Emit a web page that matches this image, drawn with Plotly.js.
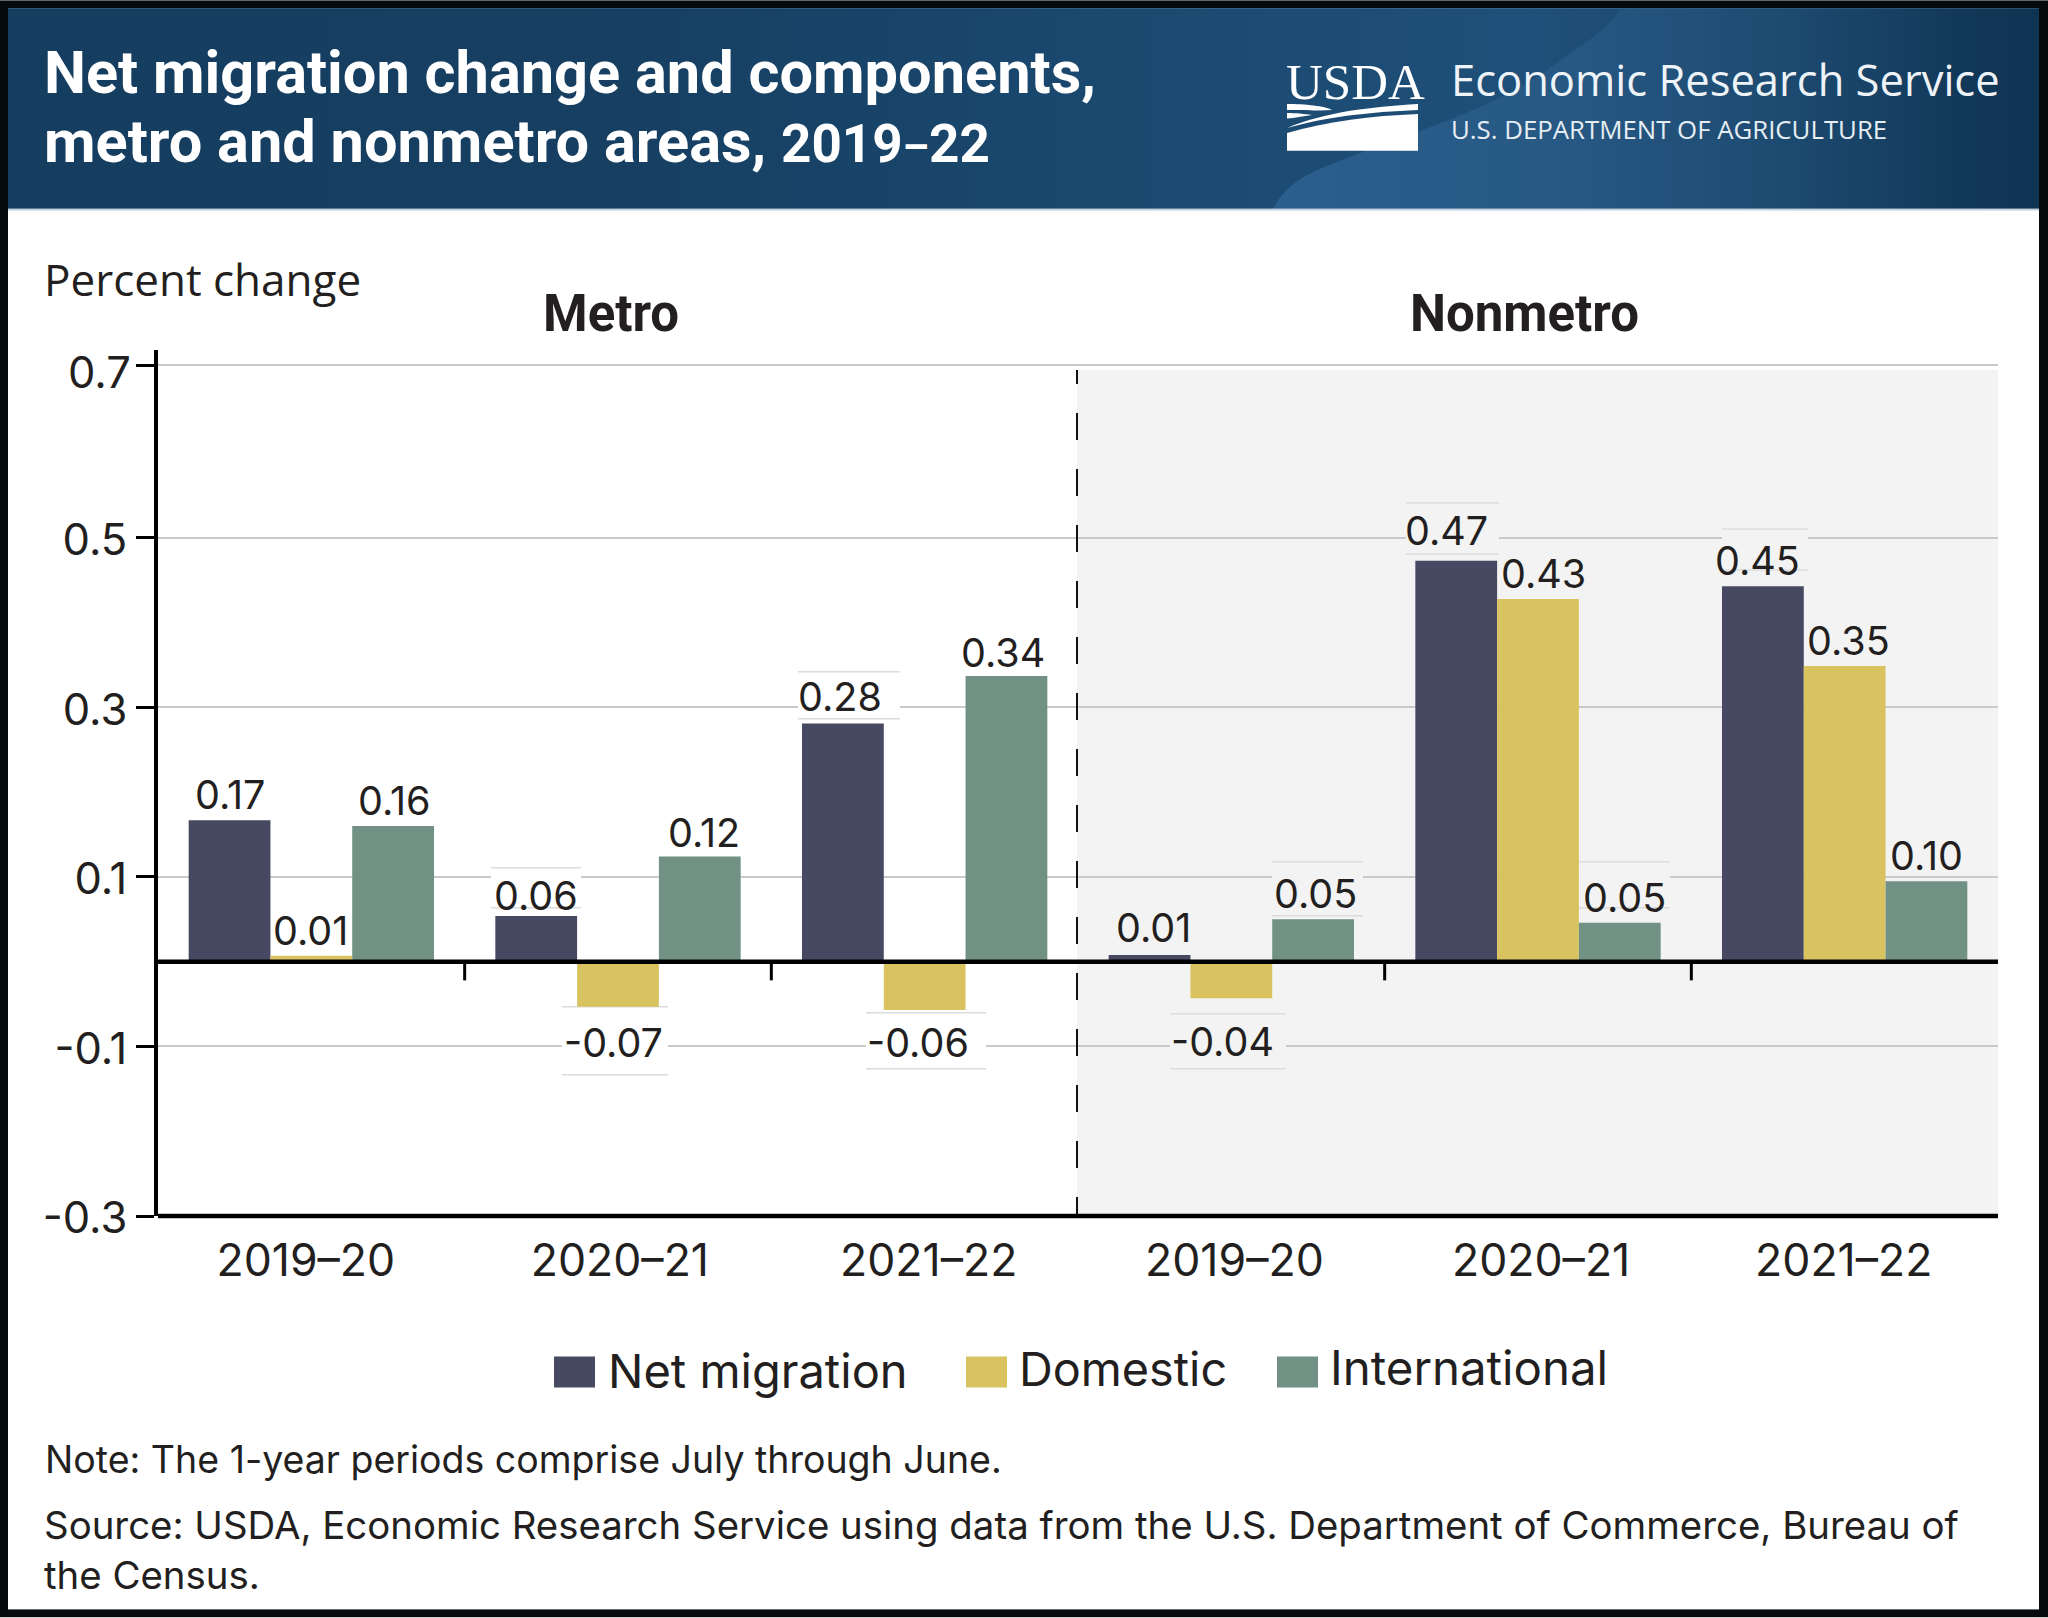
<!DOCTYPE html>
<html>
<head>
<meta charset="utf-8">
<script src="https://cdn.plot.ly/plotly-3.0.1.min.js"></script>
<style>html,body{margin:0;padding:0;background:#fff;overflow:hidden}#chart{width:2048px;height:1618px}</style>
</head>
<body>
<div id="chart"></div>
<script>
// ---- data ----
const periods = ["2019–20","2020–21","2021–22","2019–20","2020–21","2021–22"];
const seriesNames = ["Net migration","Domestic","International"];
const netMigration  = [0.167,0.054,0.281,0.008,0.473,0.443];
const domestic      = [0.007,-0.053,-0.057,-0.043,0.428,0.349];
const international = [0.160,0.124,0.337,0.050,0.046,0.095];
const netLabels  = ["0.17","0.06","0.28","0.01","0.47","0.45"];
const domLabels  = ["0.01","-0.07","-0.06","-0.04","0.43","0.35"];
const intLabels  = ["0.16","0.12","0.34","0.05","0.05","0.10"];
const yTickVals  = [-0.3,-0.1,0.1,0.3,0.5,0.704];
const yTickText  = ["-0.3","-0.1","0.1","0.3","0.5",""];
const topTickText= "0.7";
const panelNames = ["Metro","Nonmetro"];
const noteText   = "Note: The 1-year periods comprise July through June.";
const sourceLine1= "Source: USDA, Economic Research Service using data from the U.S. Department of Commerce, Bureau of";
const sourceLine2= "the Census.";

// ---- label nudges in pixels, per series ----
const netDx=[0,0,-3,4,-10,-5], domDx=[-1,-5,-7,-9,5,4], intDx=[1,4,-3,2,5,0];
const netDy=[25,20,27,27,30,25], domDy=[25,-36,-33,-44,25,25], intDy=[25,24,23,25,25,25];

// ---- styles / frame ----
const navy="#474861", gold="#d9c260", teal="#719184", ink="#231f20";
const L=158, R=1998, T=350, B=1216.4, Y0=962, PX=848;
const W=R-L, H=B-T;
const yTop=(Y0-T)/PX, yBot=(Y0-B)/PX;
const dx=p=>(p-L)/W*6-0.5, dy=p=>(Y0-p)/PX;
const px=x=>(x-L)/W, py=y=>1-(y-T)/H;

const banner=`<svg xmlns="http://www.w3.org/2000/svg" width="2048" height="1618" viewBox="0 0 2048 1618">
<defs><linearGradient id="g" x1="0" x2="1" y1="0" y2="0">
<stop offset="0" stop-color="#153d5f"/><stop offset="0.3" stop-color="#163f62"/><stop offset="0.62" stop-color="#1c4b73"/><stop offset="0.75" stop-color="#1f5079"/><stop offset="0.88" stop-color="#194468"/><stop offset="1" stop-color="#0f3352"/></linearGradient>
<linearGradient id="s" gradientUnits="userSpaceOnUse" x1="1273" x2="1950" y1="0" y2="0">
<stop offset="0" stop-color="#2b5f8e" stop-opacity="1"/><stop offset="0.45" stop-color="#2a5c88" stop-opacity="0.7"/><stop offset="1" stop-color="#1f5079" stop-opacity="0"/></linearGradient></defs>
<rect x="0" y="0" width="2048" height="1618" fill="#050a0c"/>
<rect x="8" y="8" width="2031" height="1602" fill="#ffffff"/>
<rect x="8" y="8" width="2031" height="201" fill="url(#g)"/>
<path d="M1273 209C1282 190 1300 178 1317 170C1400 135 1500 110 1560 60C1590 40 1612 25 1620 8L2039 8L2039 209Z" fill="url(#s)"/>
<rect x="8" y="208.500" width="2031" height="2" fill="#c3d2df"/>
<path d="M1287 150.700L1287 133C1330 121 1370 116 1418 114L1418 150.700Z" fill="#fff"/>
<path d="M1287 128C1325 112 1370 107 1418 104L1418 110C1370 112 1325 117 1287 128Z" fill="#fff"/>
<path d="M1287 104L1287 110C1310 110 1320 111 1332 110C1325 106 1305 104 1287 104Z" fill="#fff"/>
<path d="M1287 113L1287 118.500C1295 118 1303 116 1312 115C1305 114 1295 113 1287 113Z" fill="#fff"/>
</svg>`;

const font=(family,size,weight,color)=>({family,size,color:color||ink,weight:weight||400});
const ROBOTO="Roboto", OPEN="Open Sans", SERIF="Liberation Serif", INTER="Inter";
const baseK={[ROBOTO]:0.34,[OPEN]:0.388,[SERIF]:0.33,[INTER]:0.364};
function txt(text,x,base,size,family,weight,color,anchor){
  return {text,xref:"paper",yref:"paper",x:px(x),y:py(base-baseK[family]*size),xanchor:anchor||"left",yanchor:"middle",
    showarrow:false,font:font(family,size,weight,color),borderpad:0,borderwidth:0};
}

// ---- traces ----
const idx=periods.map((_,i)=>i);
const barTrace=(name,y,color)=>({type:"bar",name,x:idx,y,marker:{color,line:{width:0}},hoverinfo:"skip",showlegend:false});
const traces=[barTrace(seriesNames[0],netMigration,navy),barTrace(seriesNames[1],domestic,gold),barTrace(seriesNames[2],international,teal)];

// ---- data labels, tied to the bars ----
const groups=[[netMigration,netLabels,netDx,netDy],[domestic,domLabels,domDx,domDy],[international,intLabels,intDx,intDy]];
const dataAnn=[];
groups.forEach((g,s)=>g[0].forEach((v,i)=>dataAnn.push({
  text:g[1][i],xref:"x",yref:"y",x:i+(s-1)*0.8/3,y:v,xshift:g[2][i],yshift:g[3][i],
  xanchor:"center",yanchor:"middle",showarrow:false,font:font(INTER,39.5)})));

// ---- shapes ----
const shapes=[];
shapes.push({type:"rect",layer:"below",xref:"x",yref:"y",x0:dx(1077),x1:5.5,y0:dy(370),y1:yBot,fillcolor:"#f3f3f3",line:{width:0}});
// label masks that interrupt gridlines
const masks=[[491,581,868,908,"#fff"],[562,668,1007,1075,"#fff"],[866,986,1013,1069,"#fff"],[798,900,672,719,"#fff"],
 [1170,1286,1014,1069,"#f3f3f3"],[1272,1363,862,916,"#f3f3f3"],[1579,1670,862,908,"#f3f3f3"],[1406,1499,503,554,"#f3f3f3"],[1722,1808,529,570,"#f3f3f3"]];
masks.forEach(m=>{
  shapes.push({type:"rect",layer:"between",xref:"x",yref:"y",x0:dx(m[0]),x1:dx(m[1]),y0:dy(m[2]),y1:dy(m[3]),fillcolor:m[4],line:{width:0}});
  [m[2],m[3]].forEach(y=>shapes.push({type:"line",layer:"between",xref:"x",yref:"y",x0:dx(m[0]),x1:dx(m[1]),y0:dy(y),y1:dy(y),line:{color:"#dcdcdc",width:1.5}}));
});
// divider
const dashPattern="14px,29px,"+Array(16).fill("27px,29px").join(",");
shapes.push({type:"line",layer:"above",xref:"x",yref:"y",x0:dx(1077),x1:dx(1077),y0:dy(370),y1:yBot,line:{color:"#111",width:2,dash:dashPattern}});
// zero line, baseline and its boundary ticks (paper refs are not clipped to the plot)
[Y0,B].forEach(y=>shapes.push({type:"line",layer:"above",xref:"paper",yref:"paper",x0:0,x1:1,y0:py(y),y1:py(y),line:{color:"#000",width:4.6}}));
[0.5,1.5,3.5,4.5].forEach(x=>shapes.push({type:"line",layer:"above",xref:"x",yref:"y",x0:x,x1:x,y0:0,y1:-0.022,line:{color:"#000",width:3}}));
// legend swatches
const swatchX=[554,966,1277];
[navy,gold,teal].forEach((c,i)=>shapes.push({type:"rect",layer:"above",xref:"paper",yref:"paper",x0:px(swatchX[i]),x1:px(swatchX[i]+41),y0:py(1357),y1:py(1388),fillcolor:c,line:{width:0}}));

// ---- page text ----
const pageAnn=[
  txt("Net migration change and components,",44,93,59.5,ROBOTO,700,"#fff"),
  txt('metro and nonmetro areas, <span style="font-size:53px">2019</span><span style="font-size:42px">–</span><span style="font-size:53px">22</span>',44,162,59.5,ROBOTO,700,"#fff"),
  txt("USDA",1286,99,51,SERIF,400,"#fff"),
  txt("Economic Research Service",1451,96,43.5,OPEN,400,"#eef3f7"),
  txt("U.S. DEPARTMENT OF AGRICULTURE",1451,139,25.8,OPEN,400,"#e6edf3"),
  txt("Percent change",44,296,44,OPEN),
  txt(panelNames[0],611,331,51,ROBOTO,700,ink,"center"),
  txt(panelNames[1],1524,331,51,ROBOTO,700,ink,"center"),
  txt(seriesNames[0],608,1388,47,INTER),
  txt(seriesNames[1],1019,1386.500,46.8,INTER),
  txt(seriesNames[2],1330,1385,47.4,INTER),
  txt(noteText,45,1474,37.5,INTER),
  txt(sourceLine1,44,1540,38.4,INTER),
  txt(sourceLine2,44,1590,38.4,INTER),
  txt(topTickText,130.5,388,43.5,INTER,400,ink,"right"),
];

const layout={
  width:2048,height:1618,
  margin:{l:L,r:2048-R,t:T,b:1618-B,pad:0,autoexpand:false},
  paper_bgcolor:"#ffffff",plot_bgcolor:"rgba(0,0,0,0)",
  barmode:"group",bargap:0.2,bargroupgap:0,showlegend:false,
  xaxis:{type:"linear",range:[-0.5,5.5],tickmode:"array",
    tickvals:idx.map((i,k)=>i+[-0.018,0.006,0.013,0.01,0.01,-0.003][k]),ticktext:periods,
    showgrid:false,zeroline:false,showline:false,ticks:"",ticklabelstandoff:14,automargin:false,
    tickfont:font(INTER,44.6)},
  yaxis:{range:[yBot,yTop],tickmode:"array",tickvals:yTickVals,ticktext:yTickText,
    showgrid:true,gridcolor:"#c9c9c9",gridwidth:2,zeroline:false,
    showline:true,linecolor:"#000",linewidth:4,ticks:"outside",ticklen:18,tickwidth:3,tickcolor:"#000",
    ticklabelstandoff:0,ticklabelshift:2,automargin:false,tickfont:font(INTER,43.5)},
  images:[{source:"data:image/svg+xml;charset=utf-8,"+encodeURIComponent(banner),xref:"paper",yref:"paper",
    x:px(0),y:py(0),sizex:2048/W,sizey:1618/H,xanchor:"left",yanchor:"top",sizing:"stretch",layer:"below"}],
  shapes,
  annotations:dataAnn.concat(pageAnn)
};
Plotly.newPlot("chart",traces,layout,{displayModeBar:false,staticPlot:true,responsive:false});
</script>
</body>
</html>
